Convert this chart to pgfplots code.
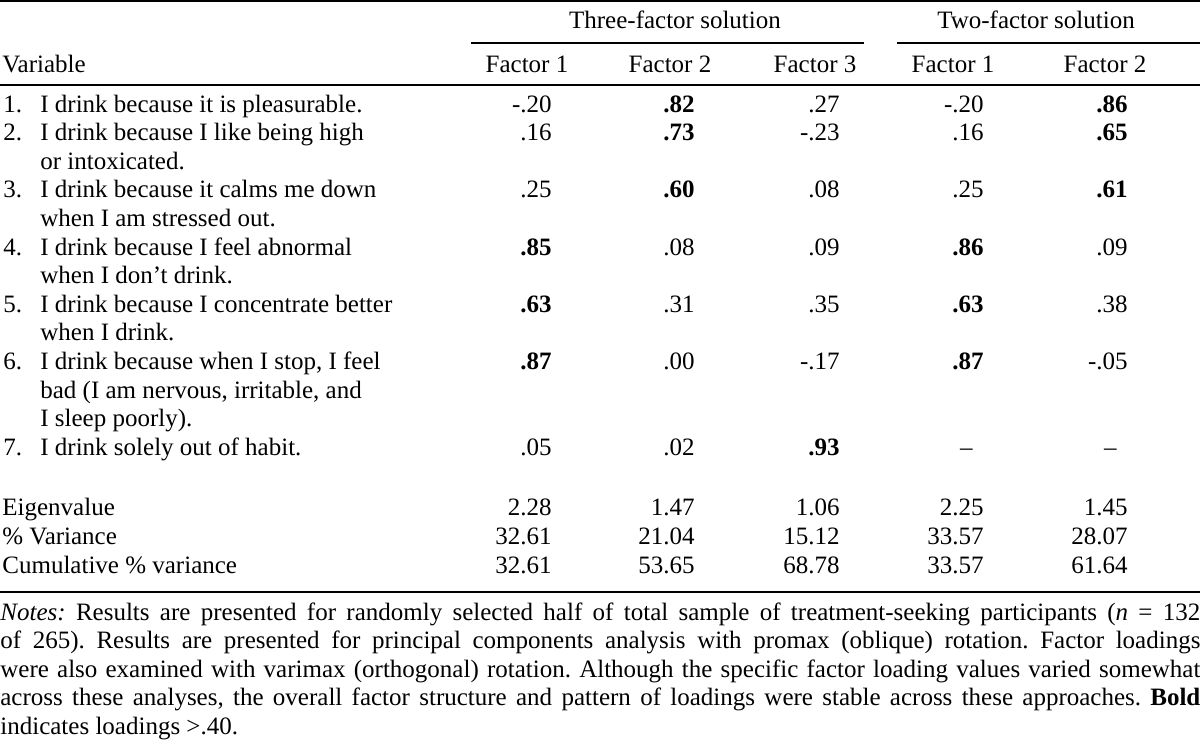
\documentclass[border=0pt]{standalone}
\usepackage{fontspec}
\setmainfont{Liberation Serif}
\usepackage{pgfplots}
\pgfplotsset{compat=1.18}
\usepackage{pgfplotstable}

\newcommand\tf{\fontsize{12.5bp}{14.3bp}\selectfont}
\newcommand\nf{\fontsize{12.5bp}{14.25bp}\selectfont}

% regular values: x = right edge of column (px), y = baseline (px, from top)
\pgfplotstableread{
x y lab
552 112 -.20
840 112 .27
984 112 -.20
552 140.6 .16
840 140.6 -.23
984 140.6 .16
552 197.8 .25
840 197.8 .08
984 197.8 .25
695 255 .08
840 255 .09
1128 255 .09
695 312.2 .31
840 312.2 .35
1128 312.2 .38
695 369.4 .00
840 369.4 -.17
1128 369.4 -.05
552 455.2 .05
695 455.2 .02
973 455.2 –
1117 455.2 –
552 515 2.28
695 515 1.47
840 515 1.06
984 515 2.25
1128 515 1.45
552 544 32.61
695 544 21.04
840 544 15.12
984 544 33.57
1128 544 28.07
552 573 32.61
695 573 53.65
840 573 68.78
984 573 33.57
1128 573 61.64
}\regulartab

% bold loadings (> .40)
\pgfplotstableread{
x y lab
695 112 .82
1128 112 .86
695 140.6 .73
1128 140.6 .65
695 197.8 .60
1128 197.8 .61
552 255 .85
984 255 .86
552 312.2 .63
984 312.2 .63
552 369.4 .87
984 369.4 .87
840 455.2 .93
}\boldtab

\begin{document}
\frenchspacing
\begin{tikzpicture}
\begin{axis}[
  width=600bp, height=371.5bp, scale only axis,
  xmin=0, xmax=1200, ymin=0, ymax=743, y dir=reverse,
  axis lines=none, ticks=none, clip=false,
]
\addplot[only marks, mark=none, nodes near coords, point meta=explicit symbolic,
  nodes near coords align={anchor=base east},
  every node near coord/.append style={inner sep=0pt, font=\tf, text=black}]
  table[x=x, y=y, meta=lab] {\regulartab};
\addplot[only marks, mark=none, nodes near coords, point meta=explicit symbolic,
  nodes near coords align={anchor=base east},
  every node near coord/.append style={inner sep=0pt, font=\tf\bfseries, text=black}]
  table[x=x, y=y, meta=lab] {\boldtab};

% rules
\draw[line width=1.1bp] (axis cs:0,1.2) -- (axis cs:1200,1.2);
\draw[line width=0.75bp] (axis cs:471,43) -- (axis cs:864,43);
\draw[line width=0.75bp] (axis cs:897,43) -- (axis cs:1200,43);
\draw[line width=0.75bp] (axis cs:0,85) -- (axis cs:1200,85);
\draw[line width=1bp] (axis cs:0,592) -- (axis cs:1200,592);

% headers
\node[anchor=base, inner sep=0pt, font=\tf] at (axis cs:675,29) {Three-factor solution};
\node[anchor=base, inner sep=0pt, font=\tf] at (axis cs:1036,29) {Two-factor solution};
\node[anchor=base west, inner sep=0pt, font=\tf] at (axis cs:2,72) {Variable};
\node[anchor=base, inner sep=0pt, font=\tf] at (axis cs:527,72) {Factor 1};
\node[anchor=base, inner sep=0pt, font=\tf] at (axis cs:670,72) {Factor 2};
\node[anchor=base, inner sep=0pt, font=\tf] at (axis cs:815,72) {Factor 3};
\node[anchor=base, inner sep=0pt, font=\tf] at (axis cs:953,72) {Factor 1};
\node[anchor=base, inner sep=0pt, font=\tf] at (axis cs:1105,72) {Factor 2};

% item numbers
\node[anchor=base west, inner sep=0pt, font=\tf] at (axis cs:3,112) {1.};
\node[anchor=base west, inner sep=0pt, font=\tf] at (axis cs:3,140.6) {2.};
\node[anchor=base west, inner sep=0pt, font=\tf] at (axis cs:3,197.8) {3.};
\node[anchor=base west, inner sep=0pt, font=\tf] at (axis cs:3,255) {4.};
\node[anchor=base west, inner sep=0pt, font=\tf] at (axis cs:3,312.2) {5.};
\node[anchor=base west, inner sep=0pt, font=\tf] at (axis cs:3,369.4) {6.};
\node[anchor=base west, inner sep=0pt, font=\tf] at (axis cs:3,455.2) {7.};

% item texts
\node[anchor=base west, inner sep=0pt, font=\tf] at (axis cs:40,112) {I drink because it is pleasurable.};
\node[anchor=base west, inner sep=0pt, font=\tf] at (axis cs:40,140.6) {I drink because I like being high};
\node[anchor=base west, inner sep=0pt, font=\tf] at (axis cs:40,169.2) {or intoxicated.};
\node[anchor=base west, inner sep=0pt, font=\tf] at (axis cs:40,197.8) {I drink because it calms me down};
\node[anchor=base west, inner sep=0pt, font=\tf] at (axis cs:40,226.4) {when I am stressed out.};
\node[anchor=base west, inner sep=0pt, font=\tf] at (axis cs:40,255) {I drink because I feel abnormal};
\node[anchor=base west, inner sep=0pt, font=\tf] at (axis cs:40,283.6) {when I don’t drink.};
\node[anchor=base west, inner sep=0pt, font=\tf] at (axis cs:40,312.2) {I drink because I concentrate better};
\node[anchor=base west, inner sep=0pt, font=\tf] at (axis cs:40,340.8) {when I drink.};
\node[anchor=base west, inner sep=0pt, font=\tf] at (axis cs:40,369.4) {I drink because when I stop, I feel};
\node[anchor=base west, inner sep=0pt, font=\tf] at (axis cs:40,398) {bad (I am nervous, irritable, and};
\node[anchor=base west, inner sep=0pt, font=\tf] at (axis cs:40,426.6) {I sleep poorly).};
\node[anchor=base west, inner sep=0pt, font=\tf] at (axis cs:40,455.2) {I drink solely out of habit.};

% summary rows
\node[anchor=base west, inner sep=0pt, font=\tf] at (axis cs:2,515) {Eigenvalue};
\node[anchor=base west, inner sep=0pt, font=\tf] at (axis cs:2,544) {\% Variance};
\node[anchor=base west, inner sep=0pt, font=\tf] at (axis cs:2,573) {Cumulative \% variance};

% notes
\node[anchor=base west, inner sep=0pt, font=\nf] at (axis cs:0,620) {\makebox[600bp][s]{\textit{Notes:} Results are presented for randomly selected half of total sample of treatment-seeking participants (\textit{n} = 132}};
\node[anchor=base west, inner sep=0pt, font=\nf] at (axis cs:0,648.5) {\makebox[600bp][s]{of 265). Results are presented for principal components analysis with promax (oblique) rotation. Factor loadings}};
\node[anchor=base west, inner sep=0pt, font=\nf] at (axis cs:0,677) {\makebox[600bp][s]{were also examined with varimax (orthogonal) rotation. Although the specific factor loading values varied somewhat}};
\node[anchor=base west, inner sep=0pt, font=\nf] at (axis cs:0,705.5) {\makebox[600bp][s]{across these analyses, the overall factor structure and pattern of loadings were stable across these approaches. \textbf{Bold}}};
\node[anchor=base west, inner sep=0pt, font=\nf] at (axis cs:0,734) {indicates loadings >.40.};
\end{axis}
\pgfresetboundingbox
\path (current axis.south west) rectangle (current axis.north east);
\end{tikzpicture}
\end{document}
